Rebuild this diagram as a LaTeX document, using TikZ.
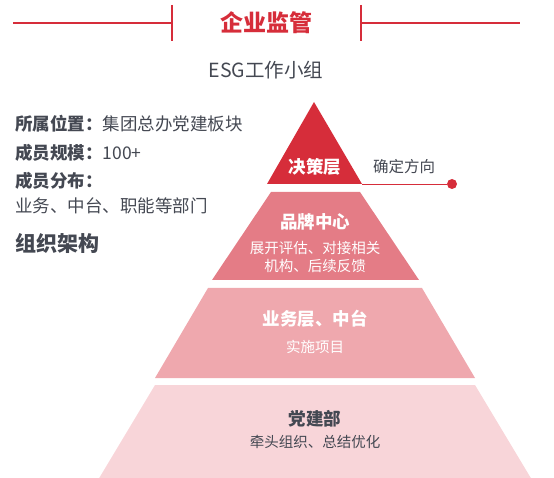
\documentclass[tikz,border=0pt]{standalone}
\usepackage{fontspec}
\setmainfont{Noto Sans CJK SC}
\usetikzlibrary{positioning}
\definecolor{esgred}{RGB}{214, 45, 58}
\definecolor{brandpink}{RGB}{228, 124, 134}
\definecolor{bizpink}{RGB}{239, 168, 174}
\definecolor{partypink}{RGB}{248, 213, 217}
\definecolor{infogray}{RGB}{68, 72, 82}

\begin{document}
\begin{tikzpicture}[x=1pt, y=-1pt,
    layertitle/.style={font=\bfseries\fontsize{17.5}{20}\selectfont, text=white},
    layernote/.style={font=\fontsize{14.5}{18}\selectfont, text=white, align=center},
    infotext/.style={anchor=west, font=\fontsize{17.5}{20}\selectfont, text=infogray, inner sep=0pt}]
        \useasboundingbox (0,0) rectangle (554,478);

        % Header
        \draw[esgred, line width=1.3pt] (13,23) -- (172,23);
        \draw[esgred, line width=1.3pt] (172,5) -- (172,41);
        \draw[esgred, line width=1.3pt] (361,23) -- (520,23);
        \draw[esgred, line width=1.3pt] (361,5) -- (361,41);
        \node[font=\bfseries\fontsize{23}{26}\selectfont, text=esgred] (title) at (266,23) {企业监管};
        \node[font=\fontsize{19.5}{22}\selectfont, text=infogray] (group) at (266,70) {ESG工作小组};

        % Info
        \node[infotext] (place) at (15,124) {\textbf{所属位置：}集团总办党建板块};
        \node[infotext] (scale) at (15,153) {\textbf{成员规模：}100+};
        \node[infotext] (spread) at (15,181) {\textbf{成员分布：}};
        \node[infotext] (dept) at (15,206) {业务、中台、职能等部门};
        \node[infotext, font=\bfseries\fontsize{21}{24}\selectfont] (arch) at (15,243) {组织架构};

        % Pyramid
        \fill[esgred] (314,102) -- (362,184) -- (267,184) -- cycle;
        \fill[brandpink] (271,192) -- (360,192) -- (419,280) -- (212,280) -- cycle;
        \fill[bizpink] (208,288) -- (422,288) -- (475,378) -- (155,378) -- cycle;
        \fill[partypink] (155,385) -- (475,385) -- (532,480) -- (98,480) -- cycle;

        % Decision
        \node[layertitle] (decide) at (315,167) {决策层};
        \coordinate (decbase) at (362,184);
        \node[circle, fill=esgred, inner sep=0pt, minimum size=10pt] (dirdot) at (452,184) {};
        \draw[esgred, line width=0.8pt] (decbase) -- (dirdot);
        \node[font=\fontsize{15.5}{18}\selectfont, text=infogray] (direction) at (404,167) {确定方向};

        % Brand center
        \node[layertitle] (brand) at (315,222) {品牌中心};
        \node[layernote] (brandnote) at (315,257) {展开评估、对接相关\\机构、后续反馈};

        % Business
        \node[layertitle] (biz) at (315,319) {业务层、中台};
        \node[layernote] (biznote) at (315,347) {实施项目};

        % Party building
        \node[layertitle, text=infogray] (party) at (315,419) {党建部};
        \node[layernote, text=infogray] (partynote) at (315,442) {牵头组织、总结优化};
    \end{tikzpicture}
\end{document}
